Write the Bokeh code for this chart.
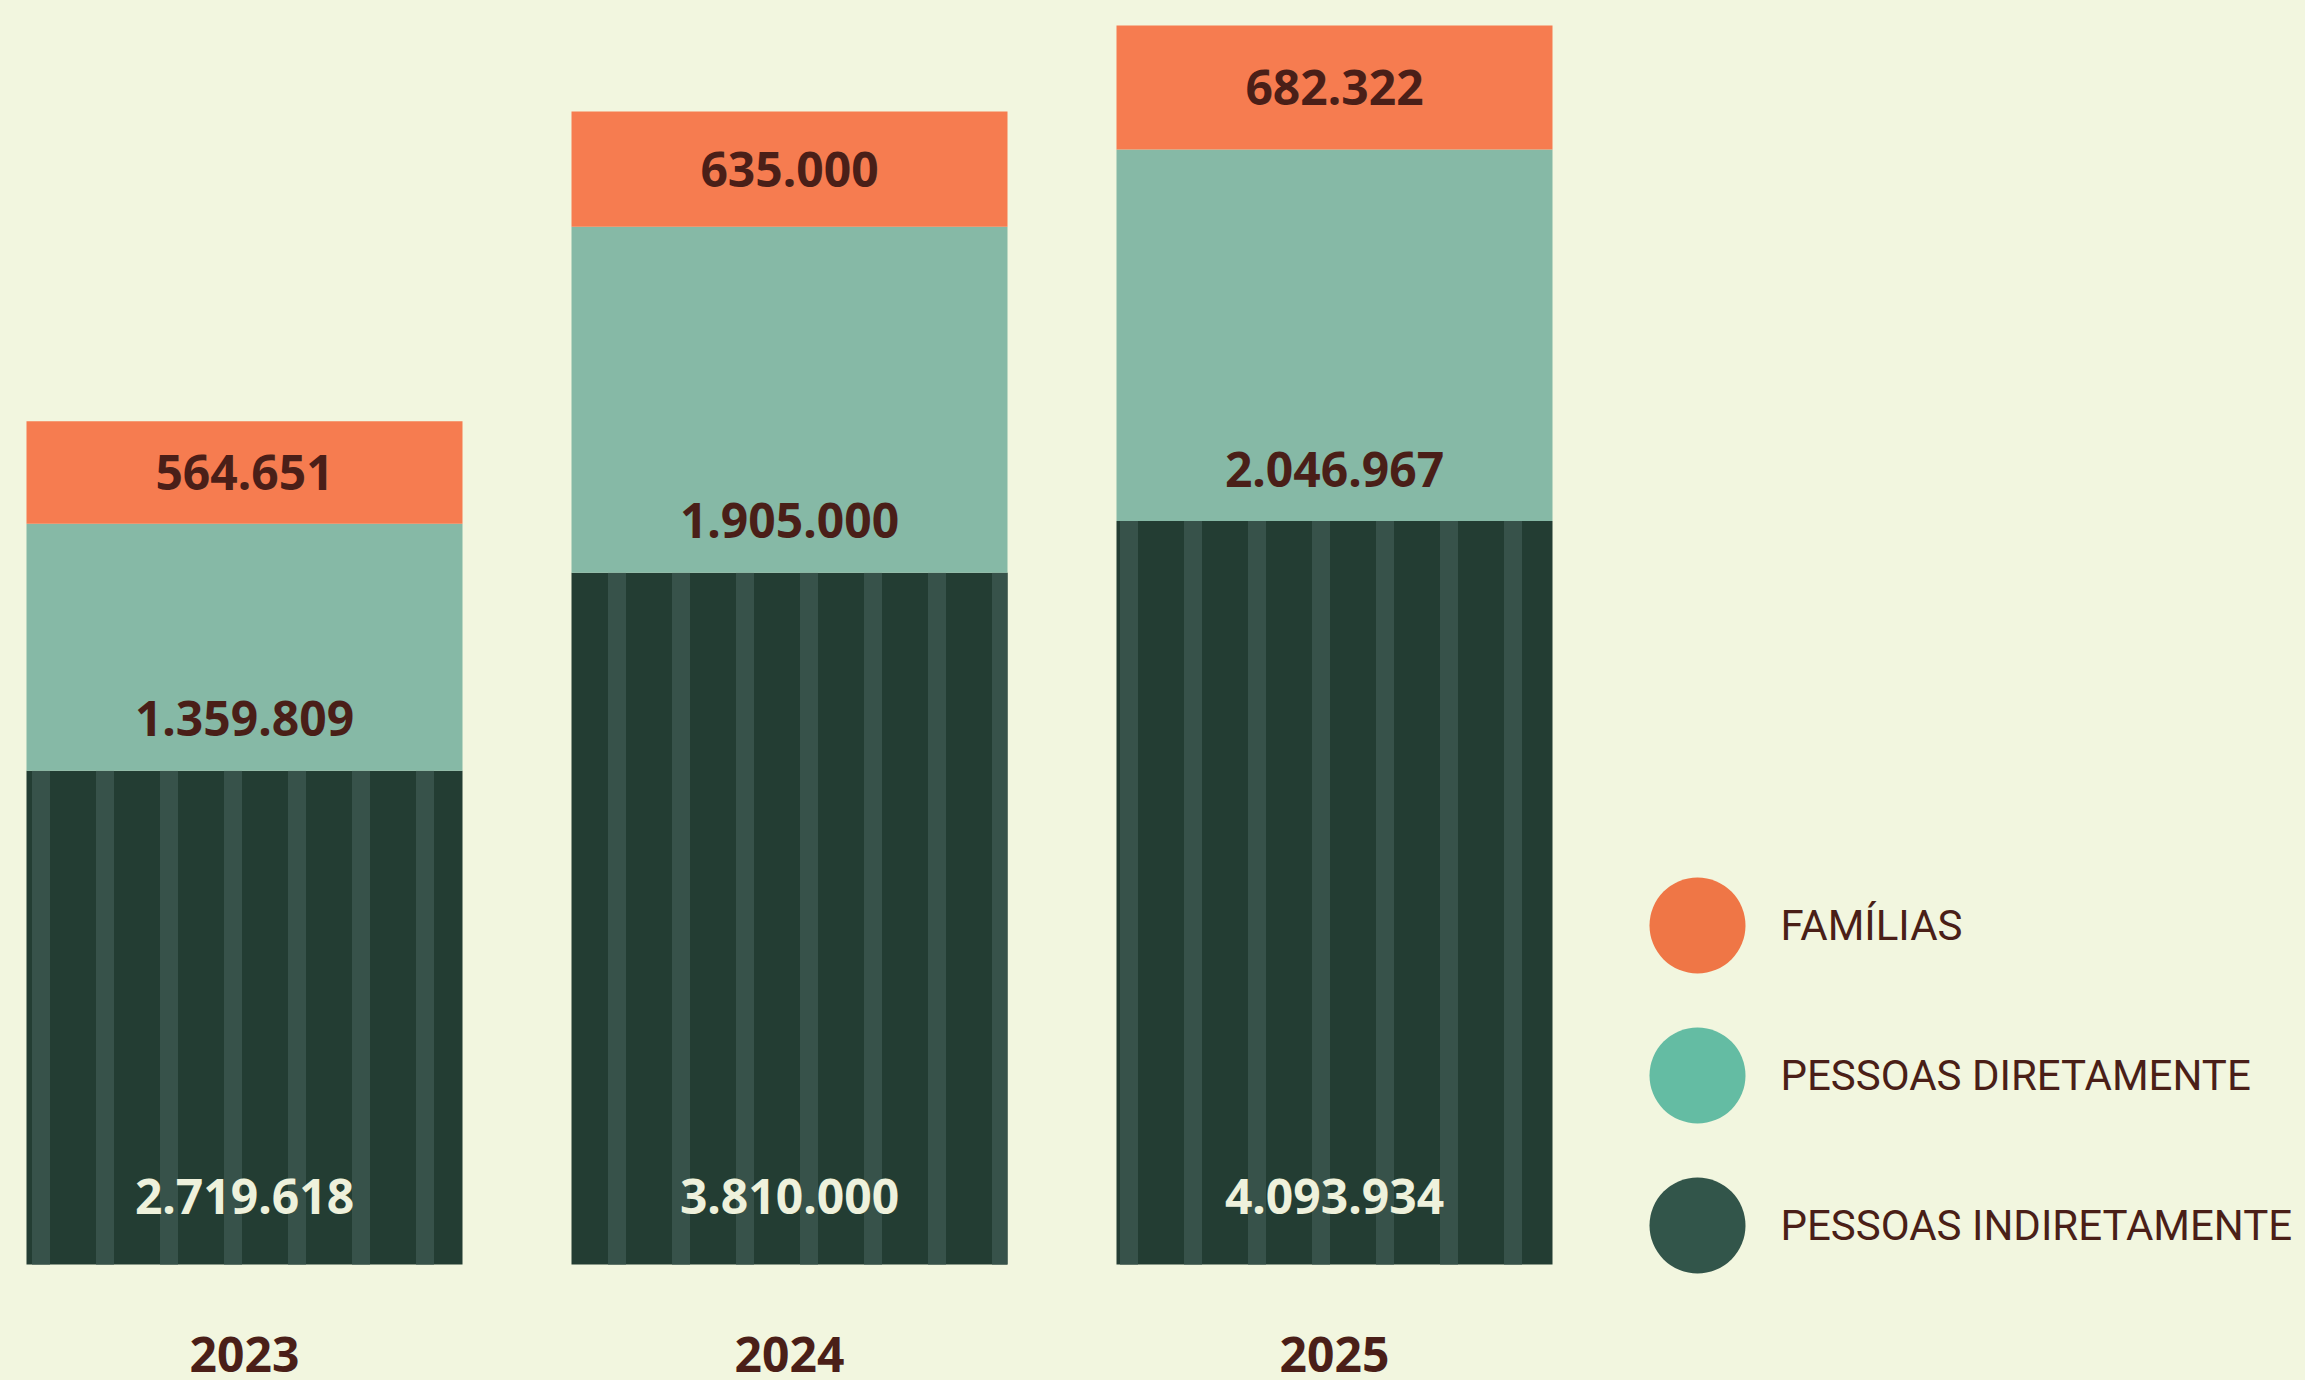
import numpy as np
from bokeh.plotting import figure
from bokeh.models import Range1d, ColumnDataSource
from bokeh.core.properties import value
from bokeh.embed import file_html
from bokeh.resources import INLINE

# ---------------- data ----------------
years = [2023, 2024, 2025]
year_labels = ["2023", "2024", "2025"]
familias = [564651, 635000, 682322]
pessoas_diretamente = [1359809, 1905000, 2046967]
pessoas_indiretamente = [2719618, 3810000, 4093934]
series_names = ["FAMÍLIAS", "PESSOAS DIRETAMENTE", "PESSOAS INDIRETAMENTE"]


def fmt(v):
    return f"{v:,}".replace(",", ".")


# ---------------- style ----------------
BG = "#f2f6df"
ORANGE = "#f67c50"
TEAL = "#86b9a6"
DARK = "#233d33"
STRIPE = "#37524a"
BROWN = "#4a1f18"
CREAM = "#eef1dc"
LEG_COLORS = ["#ef7646", "#64bca3", "#32554a"]

W = 2289
H = 1364
PX_PER_YEAR = 545.0
FIRST_CENTER_PX = 236.0
PEOPLE_PER_PX = 5507.0
BASE_PX = 108.0
BAR_W = 436.0 / PX_PER_YEAR

ind = np.array(pessoas_indiretamente, dtype=float)
dire = np.array(pessoas_diretamente, dtype=float)
fam = np.array(familias, dtype=float)

src = ColumnDataSource(dict(
    x=years,
    zero=[0] * len(years),
    ind=ind,
    dir_top=ind + dire,
    tot=ind + dire + fam,
    fam_mid=ind + dire + fam / 2,
    fam_lbl=[fmt(v) for v in familias],
    dir_lbl=[fmt(v) for v in pessoas_diretamente],
    ind_lbl=[fmt(v) for v in pessoas_indiretamente],
    year=year_labels,
))

x_range = Range1d(years[0] - FIRST_CENTER_PX / PX_PER_YEAR,
                  years[0] + (W - FIRST_CENTER_PX) / PX_PER_YEAR)
y_range = Range1d(-BASE_PX * PEOPLE_PER_PX, (H - BASE_PX) * PEOPLE_PER_PX)

p = figure(width=W, height=H, x_range=x_range, y_range=y_range,
           output_backend="svg", toolbar_location=None, min_border=0,
           background_fill_color=BG, border_fill_color=BG,
           outline_line_color=None)
p.axis.visible = False
p.grid.visible = False

p.vbar(x="x", width=BAR_W, bottom="zero", top="ind", source=src,
       fill_color=DARK, line_color=None,
       hatch_pattern="|", hatch_color=STRIPE, hatch_scale=64, hatch_weight=18)
p.vbar(x="x", width=BAR_W, bottom="ind", top="dir_top", source=src,
       fill_color=TEAL, line_color=None)
p.vbar(x="x", width=BAR_W, bottom="dir_top", top="tot", source=src,
       fill_color=ORANGE, line_color=None)

num_font = value("Noto Sans")
p.text(x="x", y="fam_mid", text="fam_lbl", source=src, text_font=num_font,
       text_font_style="bold", text_font_size="48px", text_color=BROWN,
       text_align="center", text_baseline="middle")
p.text(x="x", y="ind", text="dir_lbl", source=src, text_font=num_font,
       text_font_style="bold", text_font_size="48px", text_color=BROWN,
       text_align="center", text_baseline="middle", y_offset=-52)
p.text(x="x", y="zero", text="ind_lbl", source=src, text_font=num_font,
       text_font_style="bold", text_font_size="48px", text_color=CREAM,
       text_align="center", text_baseline="middle", y_offset=-68)
p.text(x="x", y="zero", text="year", source=src, text_font=num_font,
       text_font_style="bold", text_font_size="48px", text_color=BROWN,
       text_align="center", text_baseline="top", y_offset=72)

# ---------------- legend (own ranges in figure pixels / row index) ----------------
LEG_TOP_PX = 917.0   # centre of first legend row (figure px from top)
LEG_STEP_PX = 150.0
p.extra_x_ranges = {"leg_x": Range1d(0, W)}
p.extra_y_ranges = {"leg_y": Range1d((H - LEG_TOP_PX) / LEG_STEP_PX,
                                     -LEG_TOP_PX / LEG_STEP_PX)}
leg_src = ColumnDataSource(dict(i=list(range(len(series_names))), name=series_names,
                                color=LEG_COLORS, cx=[1689] * 3, tx=[1772] * 3))
p.scatter(x="cx", y="i", size=96, color="color", source=leg_src, line_color=None,
          x_range_name="leg_x", y_range_name="leg_y")
p.text(x="tx", y="i", text="name", source=leg_src, text_font=value("Roboto"),
       text_font_size="42px", text_color=BROWN, text_align="left",
       text_baseline="middle", x_range_name="leg_x", y_range_name="leg_y")

html = file_html(p, INLINE)
style = ("<style>html{background-color:%s !important;} body{margin:8px !important;"
         "padding:0 !important;background-color:%s !important;}</style>" % (BG, BG))
html = html.replace("</head>", style + "</head>", 1)
open("out.html", "w").write(html)
